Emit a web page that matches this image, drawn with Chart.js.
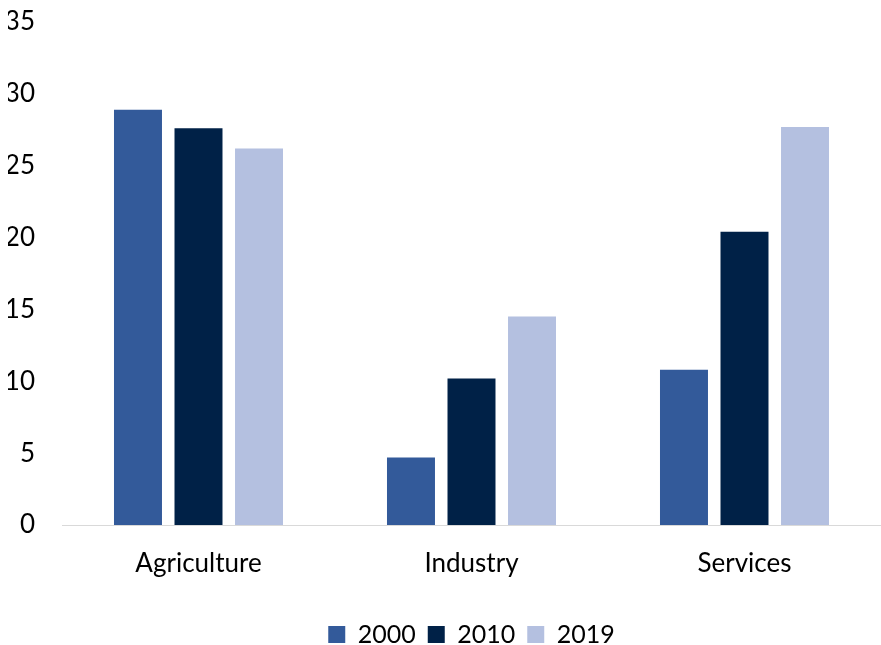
<!DOCTYPE html>
<html>
<head>
<meta charset="utf-8">
<script src="https://cdn.jsdelivr.net/npm/chart.js@4/dist/chart.umd.min.js"></script>
<style>
  html, body { margin: 0; padding: 0; background: #fff; }
  #chart { display: block; }
</style>
</head>
<body>
<canvas id="chart" width="881" height="645"></canvas>
<script>
//categories and series
const sectors = ['Agriculture', 'Industry', 'Services'];
const years = ['2000', '2010', '2019'];
const values2000 = [28.9, 4.7, 10.8];
const values2010 = [27.6, 10.2, 20.4];
const values2019 = [26.2, 14.5, 27.7];
const yTicks = [0, 5, 10, 15, 20, 25, 30, 35];

const colors = ['#335a9a', '#002147', '#b4c0e0'];
const font = { family: 'Lato, "Open Sans", sans-serif', size: 26 };

const ctx = document.querySelector('#chart');

new Chart(ctx, {
  type: 'bar',
  data: {
    labels: sectors,
    datasets: [values2000, values2010, values2019].map((vals, i) => ({
      label: years[i],
      data: vals,
      backgroundColor: colors[i],
      borderWidth: 0,
      categoryPercentage: 0.665,
      barPercentage: 0.793,
    })),
  },
  options: {
    responsive: false,
    animation: false,
    layout: { padding: { left: 8, right: 0, top: 0, bottom: -12 } },
    plugins: {
      tooltip: { enabled: false },
      legend: {
        position: 'bottom',
        fullSize: false,
        labels: {
          color: '#000',
          font: { family: font.family, size: 25 },
          boxWidth: 17,
          boxHeight: 17,
          padding: 12,
        },
      },
    },
    scales: {
      x: {
        afterFit: (axis) => {
          axis.height = 85;
        },
        grid: { display: false },
        border: { color: '#d9d9d9', width: 1 },
        ticks: { color: '#000', font: font, padding: 15 },
      },
      y: {
        min: 0,
        max: 35,
        afterBuildTicks: (axis) => {
          axis.ticks = yTicks.map((v) => ({ value: v }));
        },
        // fixed width so the plot starts at x=62; tick padding would otherwise pad the top too
        afterFit: (axis) => {
          axis.width = 54;
          axis.paddingTop = 22;
          axis.paddingBottom = 16;
        },
        grid: { display: false, drawTicks: false },
        border: { display: false },
        ticks: { color: '#000', font: font, padding: 27 },
      },
    },
  },
});
</script>
</body>
</html>
